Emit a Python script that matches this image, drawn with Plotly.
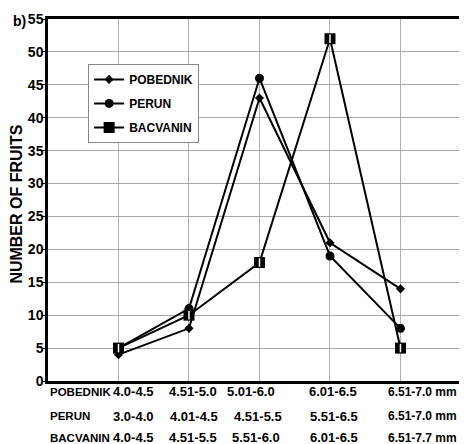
import plotly.graph_objects as go

categories = [1, 2, 3, 4, 5]
pobednik = [4, 8, 43, 21, 14]
perun = [5, 11, 46, 19, 8]
bacvanin = [5, 10, 18, 52, 5]

row_names = ["POBEDNIK", "PERUN", "BACVANIN"]
pobednik_ranges = ["4.0-4.5", "4.51-5.0", "5.01-6.0", "6.01-6.5", "6.51-7.0 mm"]
perun_ranges = ["3.0-4.0", "4.01-4.5", "4.51-5.5", "5.51-6.5", "6.51-7.0 mm"]
bacvanin_ranges = ["4.0-4.5", "4.51-5.5", "5.51-6.0", "6.01-6.5", "6.51-7.7 mm"]
y_ticks = list(range(0, 56, 5))

FONT = "Liberation Sans, Arial, sans-serif"

fig = go.Figure()
fig.add_trace(go.Scatter(x=categories, y=pobednik, name="POBEDNIK", mode="lines+markers",
                         line=dict(color="black", width=2),
                         marker=dict(symbol="diamond", size=7, color="black"),
                         legendgroup="a"))
fig.add_trace(go.Scatter(x=categories, y=perun, name="PERUN", mode="lines+markers",
                         line=dict(color="black", width=2),
                         marker=dict(symbol="circle", size=9, color="black"),
                         legendgroup="b"))
fig.add_trace(go.Scatter(x=categories, y=bacvanin, name="BACVANIN", mode="lines+markers",
                         line=dict(color="black", width=2),
                         marker=dict(symbol="square", size=11, color="black",
                                     line=dict(color="black", width=0)),
                         legendgroup="c"))
fig.add_trace(go.Scatter(x=categories, y=bacvanin, mode="markers", showlegend=False,
                         marker=dict(symbol="line-ns", size=6,
                                     line=dict(color="white", width=1.5)),
                         hoverinfo="skip"))

# x-axis category labels as three text rows
rows = [pobednik_ranges, perun_ranges, bacvanin_ranges]
row_y = [-0.030, -0.097, -0.157]
col_shift = [[36, 4, -8, 3, -14], [36, 5, -1, 4, -14], [36, 4, -3, 4, -14]]
for r, (name, labels) in enumerate(zip(row_names, rows)):
    fig.add_annotation(x=0.0, xref="paper", y=row_y[r], yref="paper", text=name,
                       showarrow=False, xanchor="left", yanchor="middle",
                       font=dict(family=FONT, size=11.5, color="black", weight="bold"))
    for i, lab in enumerate(labels):
        anchor = "right" if i == 0 else ("left" if i == 4 else "center")
        fig.add_annotation(x=categories[i], xref="x", y=row_y[r], yref="paper", text=lab,
                           showarrow=False, xanchor=anchor, yanchor="middle",
                           xshift=col_shift[r][i],
                           font=dict(family=FONT, size=12 if i == 4 else 13,
                                     color="black", weight="bold"))

fig.add_annotation(x=-0.087, xref="paper", y=0.994, yref="paper", text="b)",
                   showarrow=False, xanchor="left", yanchor="middle",
                   font=dict(family=FONT, size=14, color="black", weight="bold"))
fig.add_annotation(x=-0.0726, xref="paper", y=0.49, yref="paper", text="NUMBER OF FRUITS",
                   showarrow=False, xanchor="center", yanchor="middle", textangle=-90,
                   font=dict(family=FONT, size=16, color="black", weight="bold"))

fig.update_layout(
    width=467, height=444,
    margin=dict(l=40, r=0, t=11, b=71, autoexpand=False),
    paper_bgcolor="white", plot_bgcolor="white",
    font=dict(family=FONT, color="black"),
    showlegend=True,
    legend=dict(x=0.094, y=0.876, xanchor="left", yanchor="top",
                bordercolor="#888888", borderwidth=1, bgcolor="white",
                font=dict(family=FONT, size=12, color="black", weight="bold"),
                tracegroupgap=5, itemwidth=30),
)
fig.update_xaxes(range=[0, 6.057], tickvals=categories, showticklabels=False,
                 showgrid=True, gridcolor="#b0b0b0", gridwidth=1,
                 showline=True, linecolor="black", linewidth=2.5, mirror=True,
                 zeroline=False, ticks="", automargin=False)
fig.update_yaxes(range=[0, 55], tickvals=y_ticks, showgrid=True, gridcolor="#a8a8a8",
                 gridwidth=1, showline=True, linecolor="black", linewidth=2.5,
                 ticks="outside", ticklen=3, tickcolor="black",
                 ticklabelstandoff=-4,
                 zeroline=False, automargin=False,
                 tickfont=dict(family=FONT, size=14, color="black", weight="bold"))

fig.write_html("out.html")
